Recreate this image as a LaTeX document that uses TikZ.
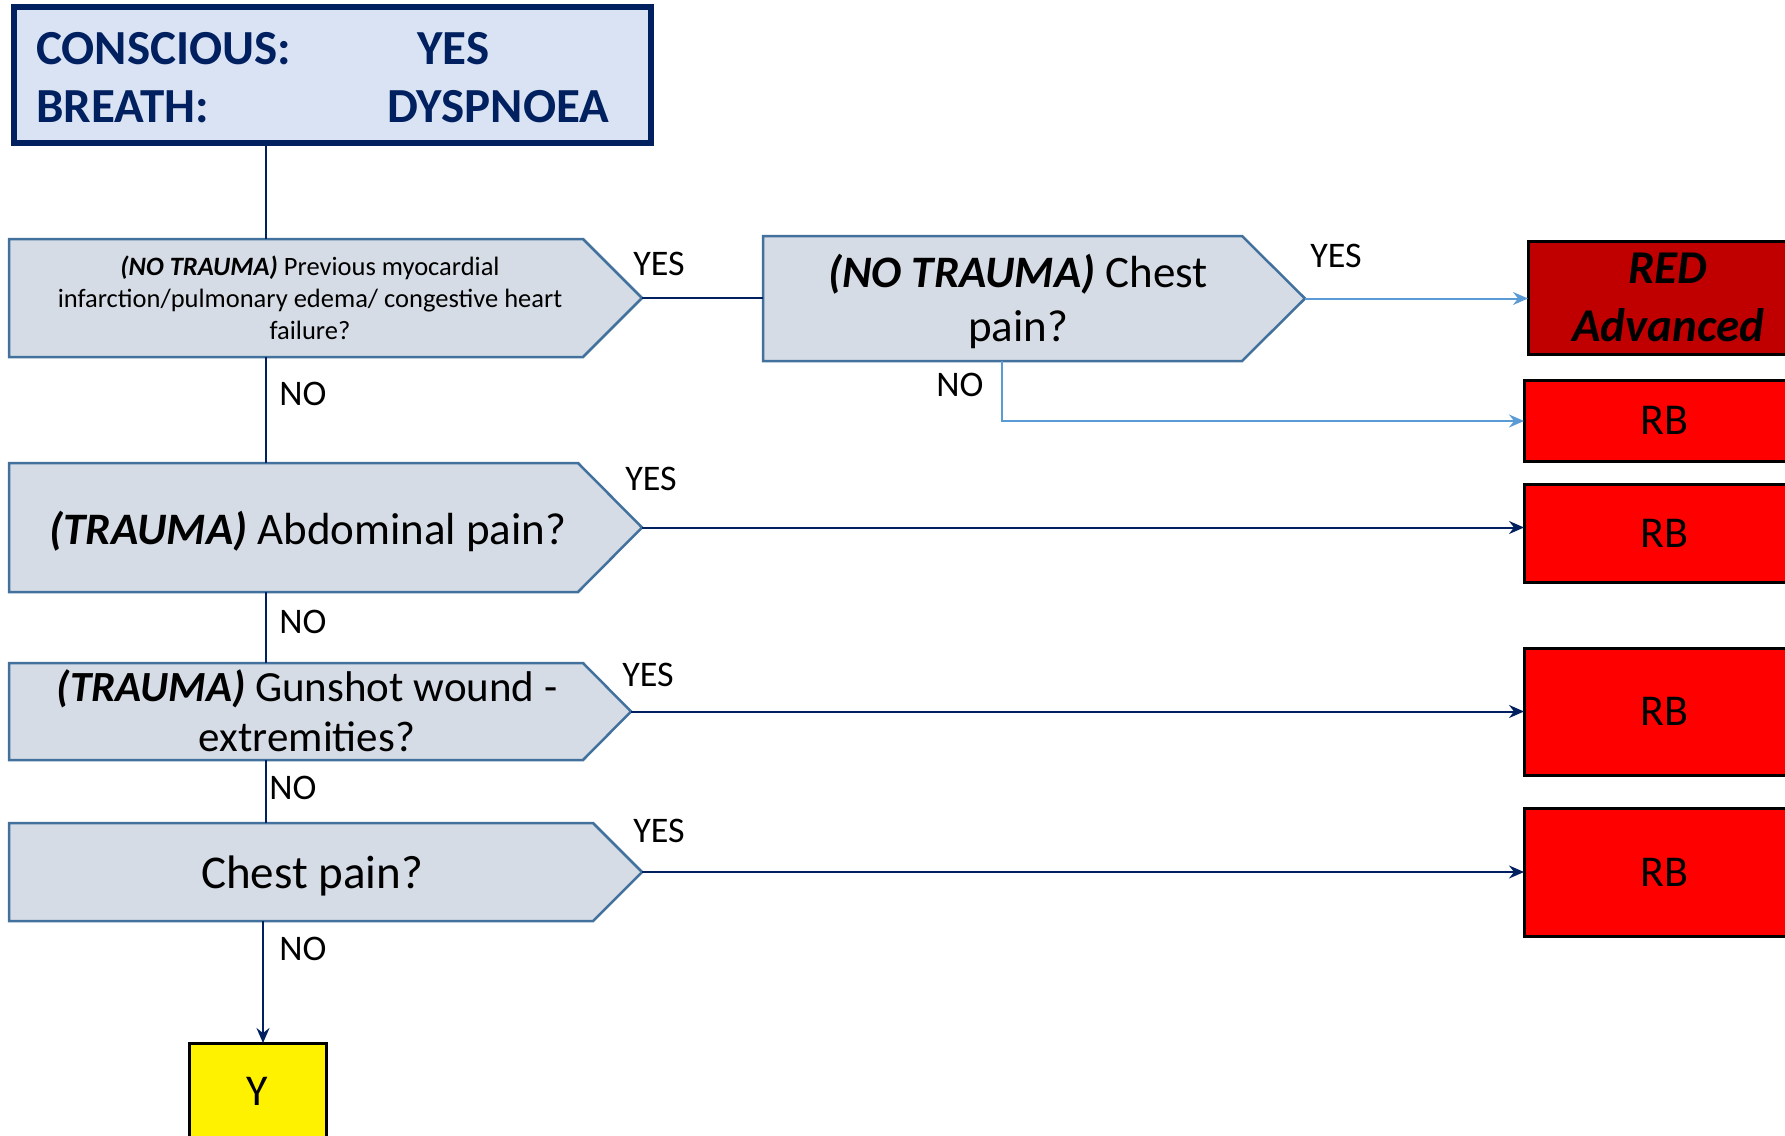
\documentclass[tikz,border=0pt]{standalone}
\usepackage{fontspec}
\setmainfont{Carlito}
\usetikzlibrary{arrows.meta}
\definecolor{navy}{HTML}{002060}
\definecolor{topfill}{HTML}{DAE3F3}
\definecolor{qfill}{HTML}{D6DCE5}
\definecolor{qedge}{HTML}{41719C}
\definecolor{lblue}{HTML}{5B9BD5}
\definecolor{darkred}{HTML}{C00000}
\tikzset{
  qshape/.style={fill=qfill, draw=qedge, line width=2.5pt, line join=miter},
  qtext/.style={align=center, inner sep=0pt, text=black},
  conn/.style={draw=navy, line width=2pt},
  lconn/.style={draw=lblue, line width=2pt},
  arr/.style={-{Stealth[length=15pt,width=13pt,inset=5pt]}},
  lbl/.style={font=\fontsize{36}{43}\selectfont, inner sep=0pt},
  toptext/.style={font=\fontsize{49}{58}\selectfont\bfseries, text=navy, inner sep=0pt, anchor=base west},
  outbox/.style={draw=black, line width=3pt, anchor=north west, inner sep=0pt, outer sep=0pt, minimum width=280pt, font=\fontsize{44}{52}\selectfont},
  rb/.style={outbox, fill=red},
}
\begin{document}
\begin{tikzpicture}[x=1pt,y=-1pt]
\useasboundingbox (0,0) rectangle (1785,1135);
\clip (0,0) rectangle (1785,1135);

% top box
\node[draw=navy, line width=6pt, fill=topfill, anchor=north west, inner sep=0pt, outer sep=0pt,
      minimum width=637pt, minimum height=136pt] (top) at (14,7) {};
\node[toptext] (t1) at (36,64) {CONSCIOUS:};
\node[toptext] (t2) at (417,64) {YES};
\node[toptext] (t3) at (36,122) {BREATH:};
\node[toptext] (t4) at (387,122) {DYSPNOEA};

% question shapes
\draw[qshape] (9,239) -- (583,239) -- (642,298) -- (583,357) -- (9,357) -- cycle;
\coordinate (q1tip) at (642,298);
\coordinate (q1top) at (266,239);
\coordinate (q1bot) at (266,357);
\node[qtext, font=\fontsize{26.5}{32}\selectfont] (q1) at (310,298)
  {\textbf{\textit{(NO TRAUMA)}} Previous myocardial\\infarction/pulmonary edema/ congestive heart\\failure?};

\draw[qshape] (763,236) -- (1242,236) -- (1305,298.5) -- (1242,361) -- (763,361) -- cycle;
\coordinate (q2tip) at (1305,298.5);
\coordinate (q2left) at (763,298);
\coordinate (q2bot) at (1002,361);
\node[qtext, font=\fontsize{45}{54}\selectfont] (q2) at (1018,301)
  {\textbf{\textit{(NO TRAUMA)}} Chest\\pain?};

\draw[qshape] (9,463) -- (578,463) -- (642,527.5) -- (578,592) -- (9,592) -- cycle;
\coordinate (q3tip) at (642,527.5);
\coordinate (q3top) at (266,463);
\coordinate (q3bot) at (266,592);
\node[qtext, font=\fontsize{45}{54}\selectfont] (q3) at (308,531)
  {\textbf{\textit{(TRAUMA)}} Abdominal pain?};

\draw[qshape] (9,663) -- (583,663) -- (631,711.5) -- (583,760) -- (9,760) -- cycle;
\coordinate (q4tip) at (631,711.5);
\coordinate (q4top) at (266,663);
\coordinate (q4bot) at (266,760);
\node[qtext, font=\fontsize{43}{50}\selectfont] (q4) at (307,711)
  {\textbf{\textit{(TRAUMA)}} Gunshot wound -\\extremities?};

\draw[qshape] (9,823) -- (593,823) -- (642,872) -- (593,921) -- (9,921) -- cycle;
\coordinate (q5tip) at (642,872);
\coordinate (q5top) at (266,823);
\coordinate (q5bot) at (263,921);
\node[qtext, font=\fontsize{47}{56}\selectfont] (q5) at (312,876) {Chest pain?};

% outcome boxes
\node[outbox, fill=darkred, minimum height=113pt, align=center,
      font=\fontsize{47}{58}\selectfont\bfseries\itshape] (red) at (1528,241) {RED\\Advanced};
\node[rb, minimum height=81pt] (rb1) at (1524,380) {RB};
\node[rb, minimum height=98pt] (rb2) at (1524,484) {RB};
\node[rb, minimum height=127pt] (rb3) at (1524,648) {RB};
\node[rb, minimum height=128pt] (rb4) at (1524,808) {RB};
\node[outbox, fill=yellow, minimum width=137pt, minimum height=96pt] (ybox) at (189,1043) {Y};

% connectors
\draw[conn] (top.south -| q1top) -- (q1top);
\draw[conn] (q1tip) -- (q2left);
\draw[lconn, arr] (q2tip) -- (q2tip -| red.west);
\draw[lconn, arr] (q2bot) |- (rb1.west |- 0,421);
\draw[conn] (q1bot) -- (q3top);
\draw[conn, arr] (q3tip) -- (q3tip -| rb2.west);
\draw[conn] (q3bot) -- (q4top);
\draw[conn, arr] (q4tip) -- (q4tip -| rb3.west);
\draw[conn] (q4bot) -- (q5top);
\draw[conn, arr] (q5tip) -- (q5tip -| rb4.west);
\draw[conn, arr] (q5bot) -- (q5bot |- ybox.north);

% labels
\node[lbl] (y1) at (659,264) {YES};
\node[lbl] (y2) at (1336,256) {YES};
\node[lbl] (n2) at (960,385) {NO};
\node[lbl] (n1) at (303,394) {NO};
\node[lbl] (y3) at (651,479) {YES};
\node[lbl] (n3) at (303,622) {NO};
\node[lbl] (y4) at (648,675) {YES};
\node[lbl] (n4) at (293,788) {NO};
\node[lbl] (y5) at (659,831) {YES};
\node[lbl] (n5) at (303,949) {NO};
\end{tikzpicture}
\end{document}
